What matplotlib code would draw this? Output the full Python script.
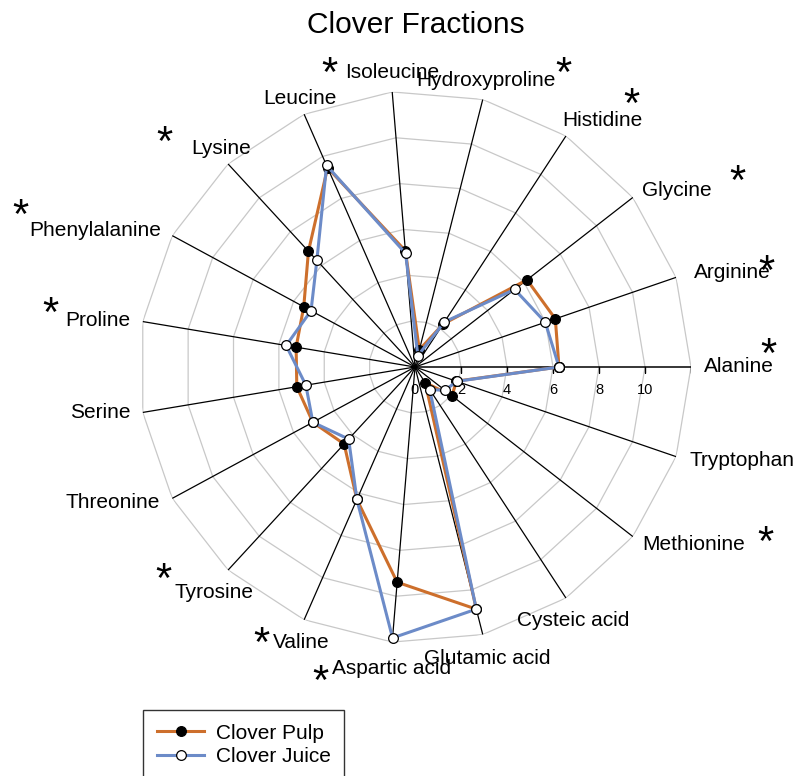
import matplotlib
matplotlib.use("Agg")
import matplotlib.pyplot as plt
import numpy as np

plt.rcParams['font.family'] = ['Liberation Sans', 'DejaVu Sans']

# ---------------- data ----------------
categories = ["Alanine", "Arginine", "Glycine", "Histidine", "Hydroxyproline",
              "Isoleucine", "Leucine", "Lysine", "Phenylalanine", "Proline",
              "Serine", "Threonine", "Tyrosine", "Valine", "Aspartic acid",
              "Glutamic acid", "Cysteic acid", "Methionine", "Tryptophan"]
pulp = [6.26, 6.45, 6.17, 2.23, 0.77, 5.07, 9.46, 6.84, 5.50, 5.24,
        5.21, 5.05, 4.55, 6.29, 9.39, 10.86, 0.81, 2.04, 1.90]
juice = [6.26, 5.99, 5.49, 2.34, 0.51, 4.96, 9.57, 6.30, 5.14, 5.68,
         4.81, 5.05, 4.26, 6.29, 11.82, 10.86, 1.17, 1.65, 1.92]
series_names = ["Clover Pulp", "Clover Juice"]
tick_values = [0, 2, 4, 6, 8, 10]
ring_values = [2, 4, 6, 8, 10, 12]
r_max = 12
starred = ["Isoleucine", "Hydroxyproline", "Histidine", "Glycine", "Arginine",
           "Alanine", "Methionine", "Aspartic acid", "Valine", "Tyrosine",
           "Proline", "Phenylalanine", "Lysine"]
title = "Clover Fractions"

# ---------------- layout (pixel offsets from chart centre) ----------------
label_offsets = {
    "Alanine": (324, 0), "Arginine": (317, 94), "Glycine": (262, 177),
    "Histidine": (187, 247), "Hydroxyproline": (71, 286), "Isoleucine": (-23, 295),
    "Leucine": (-115, 269), "Lysine": (-194, 218), "Phenylalanine": (-320, 136),
    "Proline": (-317, 46), "Serine": (-315, -46), "Threonine": (-302, -136),
    "Tyrosine": (-201, -226), "Valine": (-114, -276), "Aspartic acid": (-23, -301),
    "Glutamic acid": (72, -292), "Cysteic acid": (158, -254),
    "Methionine": (279, -178), "Tryptophan": (327, -94),
}
star_centers = {
    "Isoleucine": (-86, 305), "Hydroxyproline": (148, 305), "Histidine": (216, 274),
    "Glycine": (322, 197), "Arginine": (351, 107), "Alanine": (353, 24),
    "Methionine": (350, -164), "Aspartic acid": (-95, -303), "Valine": (-154, -265),
    "Tyrosine": (-252, -201), "Proline": (-365, 65), "Phenylalanine": (-395, 163),
    "Lysine": (-251, 236),
}

W, H, DPI = 7.96, 7.76, 100
cx, cy, R = 415, 367, 276  # centre and outer radius in pixels

fig = plt.figure(figsize=(W, H), dpi=DPI)
ax = fig.add_axes([(cx - R) / 796, (776 - cy - R) / 776, 2 * R / 796, 2 * R / 776],
                  projection='polar')
ax.set_ylim(0, r_max)
ax.set_xticks([])
ax.set_yticks([])
ax.grid(False)
ax.spines['polar'].set_visible(False)

n = len(categories)
angles = np.linspace(0, 2 * np.pi, n, endpoint=False)
closed = np.append(angles, angles[0])

# rings (polygons)
for r in ring_values:
    ax.plot(closed, [r] * (n + 1), color='#c8c8c8', lw=0.9, zorder=1)
# spokes
for i, a in enumerate(angles):
    ax.plot([a, a], [0, r_max], color='black', lw=0.9 if i else 1.1, zorder=2)
# axis tick marks on value axis
ax.plot(np.zeros(len(ring_values)), ring_values, linestyle='none', marker=3,
        markersize=4, color='black', markeredgewidth=1.0, zorder=2)
# axis tick labels
for v in tick_values:
    ax.annotate(str(v), xy=(0, v), xytext=(0, -23), textcoords='offset pixels',
                ha='center', va='center', fontsize=10.5, annotation_clip=False)

# data
colors = ['#CD6F2C', '#6C8BC8']
face = ['black', 'white']
for vals, name, c, fc in zip([pulp, juice], series_names, colors, face):
    ax.plot(closed, np.append(vals, vals[0]), color=c, lw=2.2, marker='o',
            markersize=7, markerfacecolor=fc, markeredgecolor='black',
            markeredgewidth=0.9, label=name, zorder=3, clip_on=False)

# category labels
for name in categories:
    dx, dy = label_offsets[name]
    ax.annotate(name, xy=(0, 0), xytext=(dx, dy), textcoords='offset pixels',
                ha='center', va='center', fontsize=15, annotation_clip=False)

# significance asterisks
star_size = 30
em_px = star_size * DPI / 72.0
for name in starred:
    dx, dy = star_centers[name]
    ax.annotate("*", xy=(0, 0), xytext=(dx, dy - 0.57 * em_px),
                textcoords='offset pixels', ha='center', va='baseline',
                fontsize=star_size, annotation_clip=False)

fig.text(416 / 796, 1 - 25 / 776, title, ha='center', va='center', fontsize=21.5)

leg = fig.legend(loc='upper left', bbox_to_anchor=(143 / 796, 1 - 710 / 776),
                 borderaxespad=0, fontsize=15, frameon=True, fancybox=False,
                 edgecolor='black', handlelength=2.3, handletextpad=0.55,
                 borderpad=0.65, labelspacing=0.22)
leg.get_frame().set_linewidth(1.0)

fig.savefig("out.png", dpi=DPI)
